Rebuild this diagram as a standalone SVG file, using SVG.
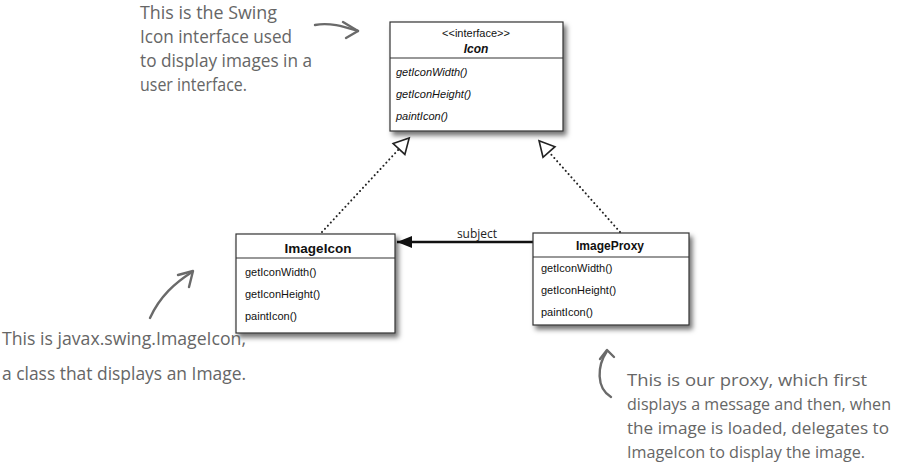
<svg xmlns="http://www.w3.org/2000/svg" width="904" height="470" viewBox="0 0 904 470">
<style>
.box{fill:#fff;stroke:#333;stroke-width:1.2}
.div{stroke:#333;stroke-width:1.2}
.t{font-family:"Liberation Sans",Arial,sans-serif;fill:#111}
.title{font-weight:bold;font-size:12px;text-anchor:middle}
.m{font-size:11px}
.it{font-style:italic}
.note{font-family:"Open Sans","Noto Sans",sans-serif;font-size:18px;fill:#666}
.sm{font-size:16.5px}
.nar{fill:none;stroke:#6a6a6a;stroke-width:2.4;stroke-linecap:round;stroke-linejoin:round}
.dot{fill:none;stroke:#222;stroke-width:2;stroke-dasharray:0.1 4.2;stroke-linecap:round}
.assoc{stroke:#111;stroke-width:2.4}
</style>
<defs>
<filter id="sh" x="-10%" y="-10%" width="125%" height="130%">
<feDropShadow dx="3" dy="4" stdDeviation="2.5" flood-color="#000" flood-opacity="0.55"/>
</filter>
<marker id="tri" markerUnits="userSpaceOnUse" markerWidth="20" markerHeight="20" viewBox="-1 -10 18 20" refX="0" refY="0" orient="auto">
<path d="M0,-8 L15,0 L0,8 Z" fill="#fff" stroke="#222" stroke-width="1.6"/>
</marker>
<marker id="fill" markerUnits="userSpaceOnUse" markerWidth="18" markerHeight="16" viewBox="0 -8 16 16" refX="15" refY="0" orient="auto">
<path d="M0,-6 L15,0 L0,6 Z" fill="#111"/>
</marker>
</defs>

<g id="connectors">
<path class="dot" d="M322,232 L399,149" marker-end="url(#tri)"/>
<path class="dot" d="M620,232 L549,152" marker-end="url(#tri)"/>
<path class="assoc" d="M533,242 L397,242" marker-end="url(#fill)"/>
<text x="477" y="238" text-anchor="middle" style="font-family:'Open Sans','Noto Sans',sans-serif;font-size:12px;fill:#222">subject</text>
</g>

<g id="Icon">
<rect class="box" x="390" y="22" width="173" height="109" filter="url(#sh)"/>
<line class="div" x1="390" y1="58" x2="563" y2="58"/>
<text class="t" x="476" y="37" text-anchor="middle" font-size="11">&lt;&lt;interface&gt;&gt;</text>
<text class="t title it" x="476" y="53" font-size="12.5">Icon</text>
<text class="t m it" x="396" y="76">getIconWidth()</text>
<text class="t m it" x="396" y="98">getIconHeight()</text>
<text class="t m it" x="396" y="120">paintIcon()</text>
</g>

<g id="ImageIcon">
<rect class="box" x="236" y="234" width="159" height="99" filter="url(#sh)"/>
<line class="div" x1="236" y1="258" x2="395" y2="258"/>
<text class="t title" x="318" y="253" style="font-size:13.5px">ImageIcon</text>
<text class="t m" x="245" y="276">getIconWidth()</text>
<text class="t m" x="245" y="298">getIconHeight()</text>
<text class="t m" x="245" y="320">paintIcon()</text>
</g>

<g id="ImageProxy">
<rect class="box" x="533" y="233" width="156" height="92" filter="url(#sh)"/>
<line class="div" x1="533" y1="257" x2="689" y2="257"/>
<text class="t title" x="610" y="250">ImageProxy</text>
<text class="t m" x="541" y="272">getIconWidth()</text>
<text class="t m" x="541" y="294">getIconHeight()</text>
<text class="t m" x="541" y="316">paintIcon()</text>
</g>

<g id="note-icon">
<text class="note" x="140" y="19" textLength="137" lengthAdjust="spacingAndGlyphs">This is the Swing</text>
<text class="note" x="140" y="43" textLength="152" lengthAdjust="spacingAndGlyphs">Icon interface used</text>
<text class="note" x="140" y="67" textLength="172" lengthAdjust="spacingAndGlyphs">to display images in a</text>
<text class="note" x="140" y="91" textLength="107" lengthAdjust="spacingAndGlyphs">user interface.</text>
<path class="nar" d="M315,25 C330,22 345,27 358,31"/>
<path class="nar" d="M343,22 L358,31 L346,38"/>
</g>

<g id="note-imageicon">
<text class="note" x="2" y="345" textLength="244" lengthAdjust="spacingAndGlyphs">This is javax.swing.ImageIcon,</text>
<text class="note" x="2" y="380" textLength="244" lengthAdjust="spacingAndGlyphs">a class that displays an Image.</text>
<path class="nar" d="M150,318 C160,296 175,283 192,272"/>
<path class="nar" d="M178,275 L193,271 L189,287"/>
</g>

<g id="note-proxy">
<text class="note sm" x="627" y="386" textLength="240" lengthAdjust="spacingAndGlyphs">This is our proxy, which first</text>
<text class="note sm" x="627" y="410" textLength="264" lengthAdjust="spacingAndGlyphs">displays a message and then, when</text>
<text class="note sm" x="627" y="434" textLength="262" lengthAdjust="spacingAndGlyphs">the image is loaded, delegates to</text>
<text class="note sm" x="627" y="458" textLength="238" lengthAdjust="spacingAndGlyphs">ImageIcon to display the image.</text>
<path class="nar" d="M611,397 C596,388 597,366 607,351"/>
<path class="nar" d="M600,359 L607,350 L614,357"/>
</g>
</svg>
